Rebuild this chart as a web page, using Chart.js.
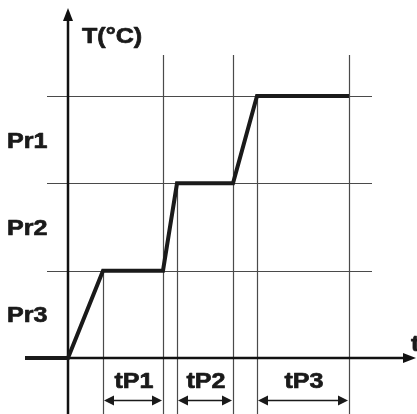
<!DOCTYPE html>
<html>
<head>
<meta charset="utf-8">
<script src="https://cdn.jsdelivr.net/npm/chart.js@4/dist/chart.umd.min.js"></script>
<style>
  html, body { margin: 0; padding: 0; background: #fff; overflow: hidden; }
  canvas { display: block; }
</style>
</head>
<body>
<canvas id="chart" width="417" height="414"></canvas>
<script>
// temperature profile: time breakpoints and temperature levels
const timeBreaks = [-43, 0, 35, 95, 109, 165, 189, 281];
const tempLevels = [0, 0, 1, 1, 2, 2, 3, 3];

// set point labels on the temperature axis (level band centres)
const setLabels = ['Pr3', 'Pr2', 'Pr1'];
const setLabelLevels = [0.5, 1.5, 2.5];

// hold periods
const holdLabels = ['tP1', 'tP2', 'tP3'];
const holdStart = [35, 109, 189];
const holdEnd = [95, 165, 281];

// grid
const gridLevels = [1, 2, 3];
const gridTimes = [35, 95, 109, 165, 189, 281];
const gridTimeTops = [1, 3.47, 2, 3.47, 3, 3.47];

const FONT = 'bold 22px "Liberation Sans", Arial, sans-serif';
const STRETCH = 1.14;

function stretchText(ctx, str, x, y, align) {
    ctx.save();
    ctx.font = FONT;
    ctx.textBaseline = 'alphabetic';
    const w = ctx.measureText(str).width * STRETCH;
    let left = x;
    if (align === 'center') left = x - w / 2;
    ctx.translate(left, y);
    ctx.scale(STRETCH, 1);
    ctx.textAlign = 'left';
    ctx.lineWidth = 0.7;
    ctx.lineJoin = 'round';
    ctx.fillText(str, 0, 0);
    ctx.strokeText(str, 0, 0);
    ctx.restore();
}

function arrowHead(ctx, x, y, dir, len, half) {
    ctx.beginPath();
    if (dir === 'up') {
        ctx.moveTo(x, y);
        ctx.lineTo(x - half, y + len);
        ctx.lineTo(x + half, y + len);
    } else if (dir === 'right') {
        ctx.moveTo(x, y);
        ctx.lineTo(x - len, y - half);
        ctx.lineTo(x - len, y + half);
    } else {
        ctx.moveTo(x, y);
        ctx.lineTo(x + len, y - half);
        ctx.lineTo(x + len, y + half);
    }
    ctx.closePath();
    ctx.fill();
}

const diagram = {
    id: 'diagram',
    beforeDatasetsDraw(chart) {
        const ctx = chart.ctx;
        const xs = chart.scales.x;
        const ys = chart.scales.y;
        ctx.save();
        ctx.strokeStyle = '#4a4a4a';
        ctx.lineWidth = 1.2;
        for (const lv of gridLevels) {
            const py = Math.round(ys.getPixelForValue(lv)) + 0.5;
            ctx.beginPath();
            ctx.moveTo(xs.getPixelForValue(-21), py);
            ctx.lineTo(xs.getPixelForValue(304), py);
            ctx.stroke();
        }
        gridTimes.forEach((t, i) => {
            const px = Math.round(xs.getPixelForValue(t)) + 0.5;
            ctx.beginPath();
            ctx.moveTo(px, ys.getPixelForValue(gridTimeTops[i]));
            ctx.lineTo(px, ys.getPixelForValue(ys.min));
            ctx.stroke();
        });

        // axes
        ctx.strokeStyle = '#111';
        ctx.fillStyle = '#111';
        ctx.lineWidth = 2.5;
        const x0 = xs.getPixelForValue(0);
        const y0 = ys.getPixelForValue(0);
        const yTip = ys.getPixelForValue(4.008);
        const xTip = xs.getPixelForValue(348);
        ctx.beginPath();
        ctx.moveTo(x0, ys.getPixelForValue(ys.min));
        ctx.lineTo(x0, yTip + 8);
        ctx.stroke();
        arrowHead(ctx, x0, yTip, 'up', 13, 5);
        ctx.beginPath();
        ctx.moveTo(xs.getPixelForValue(-43), y0);
        ctx.lineTo(xTip - 8, y0);
        ctx.stroke();
        arrowHead(ctx, xTip, y0, 'right', 13, 5);
        ctx.restore();
    },
    afterDatasetsDraw(chart) {
        const ctx = chart.ctx;
        const xs = chart.scales.x;
        const ys = chart.scales.y;
        ctx.save();
        ctx.fillStyle = '#1a1a1a';
        ctx.strokeStyle = '#1a1a1a';

        stretchText(ctx, 'T(°C)', xs.getPixelForValue(14), ys.getPixelForValue(3.61), 'left');
        stretchText(ctx, 't', xs.getPixelForValue(343), ys.getPixelForValue(0.08), 'left');

        setLabels.forEach((lab, i) => {
            stretchText(ctx, lab, xs.getPixelForValue(-61), ys.getPixelForValue(setLabelLevels[i]) + 8, 'left');
        });

        const textY = ys.getPixelForValue(-0.34);
        const arrowY = Math.round(ys.getPixelForValue(-0.481)) + 0.5;
        holdLabels.forEach((lab, i) => {
            const a = xs.getPixelForValue(holdStart[i]);
            const b = xs.getPixelForValue(holdEnd[i]);
            stretchText(ctx, lab, (a + b) / 2 + 1, textY, 'center');
            ctx.lineWidth = 1.5;
            ctx.beginPath();
            ctx.moveTo(a + 6, arrowY);
            ctx.lineTo(b - 6, arrowY);
            ctx.stroke();
            arrowHead(ctx, a + 1, arrowY, 'left', 10, 5);
            arrowHead(ctx, b - 1, arrowY, 'right', 10, 5);
        });
        ctx.restore();
    }
};

new Chart(document.getElementById('chart'), {
    type: 'line',
    data: {
        datasets: [{
            data: timeBreaks.map((t, i) => ({ x: t, y: tempLevels[i] })),
            borderColor: '#1a1a1a',
            borderWidth: 4,
            pointRadius: 0,
            tension: 0,
            fill: false,
            borderJoinStyle: 'miter',
            borderCapStyle: 'butt'
        }]
    },
    options: {
        responsive: false,
        animation: false,
        devicePixelRatio: 1,
        layout: { padding: 0 },
        plugins: { legend: { display: false }, tooltip: { enabled: false } },
        scales: {
            x: { type: 'linear', min: -68, max: 349, display: false },
            y: { type: 'linear', min: -0.6412, max: 4.0993, display: false }
        }
    },
    plugins: [diagram]
});
</script>
</body>
</html>
